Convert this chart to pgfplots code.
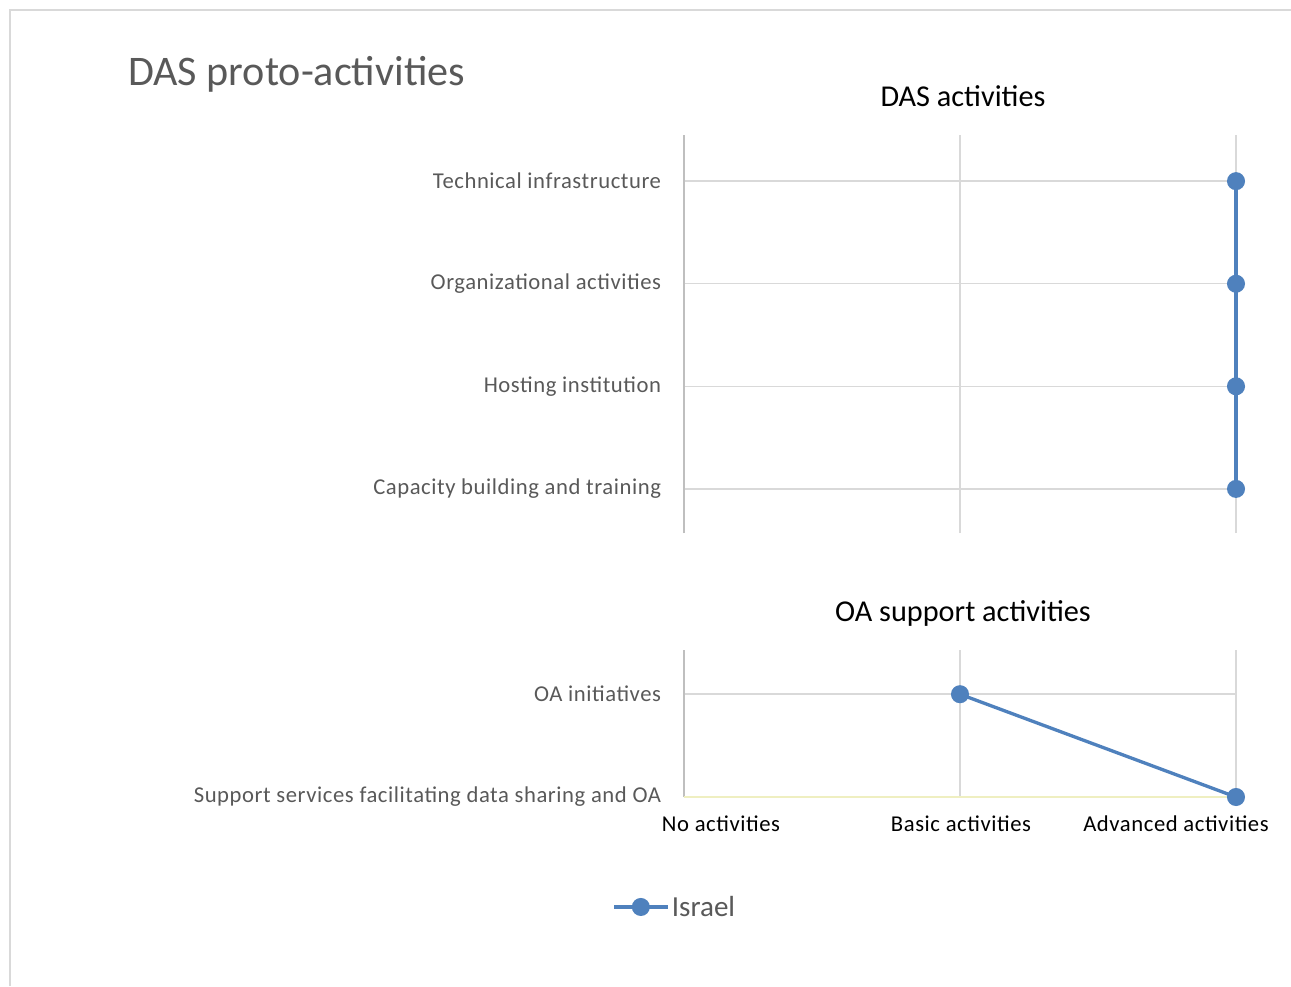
\documentclass[border=0pt]{standalone}
\usepackage{fontspec}
\setmainfont{Carlito}
\usepackage{pgfplots}
\pgfplotsset{compat=1.18}
\definecolor{serie}{HTML}{4F81BD}
\definecolor{gridc}{HTML}{D9D9D9}
\definecolor{axisc}{HTML}{BFBFBF}
\definecolor{txt}{HTML}{595959}
\newfontfamily\lblfont[LetterSpace=2.5]{Carlito}
\pgfplotsset{
  dasaxis/.style={
    scale only axis, width=414pt,
    xmin=0, xmax=2, xtick={0,1,2},
    xticklabels={}, 
    grid=major,
    major grid style={draw=gridc, line width=1.1pt},
    axis line style={draw=none},
    major tick length=0pt,
    yticklabel style={font=\lblfont\fontsize{17}{18}\selectfont, text=txt, anchor=east, inner sep=0pt, xshift=-17pt},
    clip=false,
  },
  israel/.style={serie, line width=2.5pt, mark=*, mark size=5.5pt, mark options={fill=serie, draw=serie}},
}
\begin{document}
\begin{tikzpicture}
\useasboundingbox (0pt,0pt) rectangle (968.25pt,-739.5pt);
\draw[gridc, line width=1.4pt] (7.5pt,-739.5pt) -- (7.5pt,-7.5pt) -- (968.25pt,-7.5pt);

% DAS activities
\begin{axis}[dasaxis, at={(513pt,-399.75pt)}, anchor=south west,
  height=298.5pt, ymin=-0.43, ymax=3.45, ytick={0,1,2,3},
  yticklabels={Capacity building and training, Hosting institution, Organizational activities, Technical infrastructure}]
\addplot[israel] coordinates {(2,0) (2,1) (2,2) (2,3)};
\draw[axisc, line width=1.1pt] (rel axis cs:0,0) -- (rel axis cs:0,1);
\end{axis}

% OA support activities
\begin{axis}[dasaxis, at={(513pt,-597.75pt)}, anchor=south west,
  height=110.25pt, ymin=0, ymax=1.43, ytick={0,1},
  yticklabels={Support services facilitating data sharing and OA, OA initiatives},
  legend style={at={(-0.13,-0.748)}, anchor=west, draw=none, fill=none,
    font=\fontsize{21.8}{24}\selectfont, text=txt, inner sep=0pt,
    cells={anchor=west}},
  legend image code/.code={\draw[mark repeat=2, mark phase=2, #1]
    plot coordinates {(0pt,0pt) (20pt,0pt) (40pt,0pt)};}]
\addplot[israel] coordinates {(1,1) (2,0)};
\addlegendentry{Israel}
\draw[axisc, line width=1.1pt] (rel axis cs:0,0) -- (rel axis cs:0,1);
\draw[gridc!70!yellow!60!white, line width=1.1pt] (rel axis cs:0,0) -- (rel axis cs:1,0);
\end{axis}

\begin{scope}[x=0.75pt, y=-0.75pt]
\node[anchor=west, text=txt, font=\fontsize{31.6}{34}\selectfont, inner sep=0pt] at (128,74) {DAS proto-activities};
\node[font=\fontsize{22.7}{25}\selectfont, inner sep=0pt] at (963,96) {DAS activities};
\node[font=\fontsize{22.7}{25}\selectfont, inner sep=0pt] at (963,613) {OA support activities};
\node[font=\lblfont\fontsize{17}{18}\selectfont, inner sep=0pt] at (721,824) {No activities};
\node[font=\lblfont\fontsize{17}{18}\selectfont, inner sep=0pt] at (961,824) {Basic activities};
\node[font=\lblfont\fontsize{17}{18}\selectfont, inner sep=0pt] at (1176,824) {Advanced activities};
\end{scope}
\end{tikzpicture}
\end{document}
